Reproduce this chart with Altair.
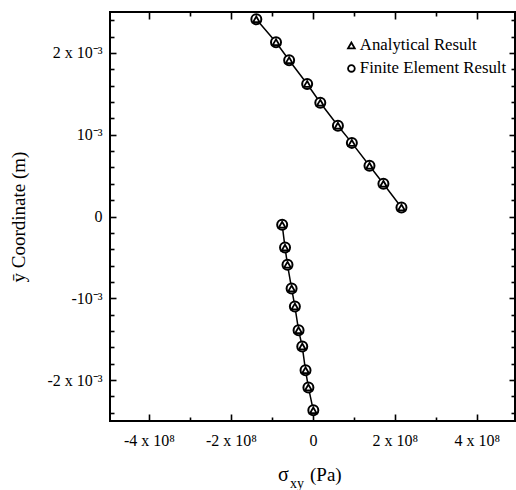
import altair as alt
import pandas as pd

# ---- data ----
upper_x = [-1.38e8, -0.90e8, -0.58e8, -0.14e8, 0.18e8, 0.61e8, 0.95e8, 1.38e8, 1.72e8, 2.16e8]
upper_y = [2.41e-3, 2.13e-3, 1.91e-3, 1.62e-3, 1.39e-3, 1.11e-3, 0.90e-3, 0.62e-3, 0.40e-3, 0.11e-3]
lower_x = [-0.75e8, -0.68e8, -0.62e8, -0.52e8, -0.44e8, -0.35e8, -0.26e8, -0.18e8, -0.11e8, 0.01e8]
lower_y = [-0.10e-3, -0.38e-3, -0.59e-3, -0.88e-3, -1.10e-3, -1.39e-3, -1.59e-3, -1.88e-3, -2.09e-3, -2.37e-3]
series = ["Analytical Result", "Finite Element Result"]

x_major = [-4e8, -2e8, 0, 2e8, 4e8]
x_major_labels = ["-4 x 10⁸", "-2 x 10⁸", "0", "2 x 10⁸", "4 x 10⁸"]
x_minor = [-3e8, -1e8, 1e8, 3e8]
y_major = [-2e-3, -1e-3, 0, 1e-3, 2e-3]
y_major_labels = ["-2 x 10⁻³", "-10⁻³", "0", "10⁻³", "2 x 10⁻³"]
y_minor = [-2.4e-3, -2.2e-3, -1.8e-3, -1.6e-3, -1.4e-3, -1.2e-3, -0.8e-3, -0.6e-3, -0.4e-3, -0.2e-3,
           0.2e-3, 0.4e-3, 0.6e-3, 0.8e-3, 1.2e-3, 1.4e-3, 1.6e-3, 1.8e-3, 2.2e-3, 2.4e-3]

rows = []
for seg, xs, ys in (("upper", upper_x, upper_y), ("lower", lower_x, lower_y)):
    for i, (xv, yv) in enumerate(zip(xs, ys)):
        for s in series:
            rows.append({"x": xv, "y": yv, "seg": seg, "order": i, "series": s})
df = pd.DataFrame(rows)

FONT = "Liberation Serif"
W, H = 405, 409
xscale = alt.Scale(domain=[-4.95e8, 4.93e8], nice=False, zero=False)
yscale = alt.Scale(domain=[-2.5e-3, 2.5e-3], nice=False, zero=False)


def label_expr(values, labels, tol):
    expr = "''"
    for v, l in zip(reversed(values), reversed(labels)):
        expr = f"abs(datum.value - ({v})) < {tol} ? '{l}' : ({expr})"
    return expr


def tick_axis(orient, values, size, labels=None, tol=None, **kw):
    args = dict(orient=orient, values=values, tickSize=size, offset=-size, domain=False,
                grid=False, tickColor="black", tickWidth=1.6)
    if labels is None:
        args.update(labels=False, title=None)
    else:
        args.update(labelExpr=label_expr(values, labels, tol), labelFont=FONT,
                    labelFontSize=16, labelColor="black")
    args.update(kw)
    return alt.Axis(**args)


base = alt.Chart(df)
xpos = alt.X("x:Q", scale=xscale, axis=None)
ypos = alt.Y("y:Q", scale=yscale, axis=None)

line = base.mark_line(color="black", strokeWidth=1.5).encode(
    x=alt.X("x:Q", scale=xscale,
            axis=tick_axis("bottom", x_major, 7, x_major_labels, 1e7, labelPadding=11, title=None)),
    y=alt.Y("y:Q", scale=yscale,
            axis=tick_axis("left", y_major, 6, y_major_labels, 1e-5, labelPadding=8,
                           title="ȳ Coordinate (m)", titleFont=FONT, titleFontSize=19,
                           titleFontWeight="normal", titleColor="black",
                           titleX=-92, titleBaseline="alphabetic")),
    detail="seg:N",
    order="order:Q",
)

shape_enc = alt.Shape(
    "series:N",
    scale=alt.Scale(domain=series, range=["triangle-up", "circle"]),
    legend=alt.Legend(title=None, orient="none", legendX=233, legendY=25,
                      labelFont=FONT, labelFontSize=16.8, labelColor="black",
                      symbolSize=45, symbolStrokeWidth=1.8, symbolOpacity=1,
                      rowPadding=5, labelOffset=0, padding=0),
)

# white disks hiding the connecting line under the markers
disks = base.transform_filter(alt.datum.series == series[1]).mark_circle(
    color="white", size=100, opacity=1
).encode(x=xpos, y=ypos)

circles = base.transform_filter(alt.datum.series == series[1]).mark_point(
    filled=False, color="black", strokeWidth=2, size=100, opacity=1
).encode(x=xpos, y=ypos, shape=shape_enc)

triangles = base.transform_filter(alt.datum.series == series[0]).mark_point(
    filled=False, color="black", strokeWidth=1.8, size=45, opacity=1
).encode(x=xpos, y=ypos, shape=shape_enc)

minor_bl = base.mark_point(opacity=0).encode(
    x=alt.X("x:Q", scale=xscale, axis=tick_axis("bottom", x_minor, 4)),
    y=alt.Y("y:Q", scale=yscale, axis=tick_axis("left", y_minor, 4)),
)
major_tr = base.mark_point(opacity=0).encode(
    x=alt.X("x:Q", scale=xscale, axis=tick_axis("top", x_major, 7)),
    y=alt.Y("y:Q", scale=yscale, axis=tick_axis("right", y_major, 6)),
)
minor_tr = base.mark_point(opacity=0).encode(
    x=alt.X("x:Q", scale=xscale, axis=tick_axis("top", x_minor, 4)),
    y=alt.Y("y:Q", scale=yscale, axis=tick_axis("right", y_minor, 4)),
)

title_df = pd.DataFrame({"t": [0]})
tb = alt.Chart(title_df)
sigma = tb.mark_text(text="σ", font=FONT, fontSize=20, align="left", baseline="alphabetic",
                     color="black").encode(x=alt.value(168), y=alt.value(469))
sub = tb.mark_text(text="xy", font=FONT, fontSize=14, align="left", baseline="alphabetic",
                   color="black").encode(x=alt.value(180), y=alt.value(476))
pa = tb.mark_text(text="(Pa)", font=FONT, fontSize=19, align="left", baseline="alphabetic",
                  color="black").encode(x=alt.value(200), y=alt.value(469))

chart = alt.layer(
    line, disks, circles, triangles, minor_bl, major_tr, minor_tr, sigma, sub, pa
).resolve_axis(x="independent", y="independent").properties(
    width=W, height=H,
    autosize=alt.AutoSizeParams(type="none"),
    padding={"left": 110, "top": 12, "right": 1, "bottom": 69},
    background="white",
).configure_view(stroke="black", strokeWidth=2)

chart.save("out.html", embed_options={"renderer": "svg", "actions": False})
